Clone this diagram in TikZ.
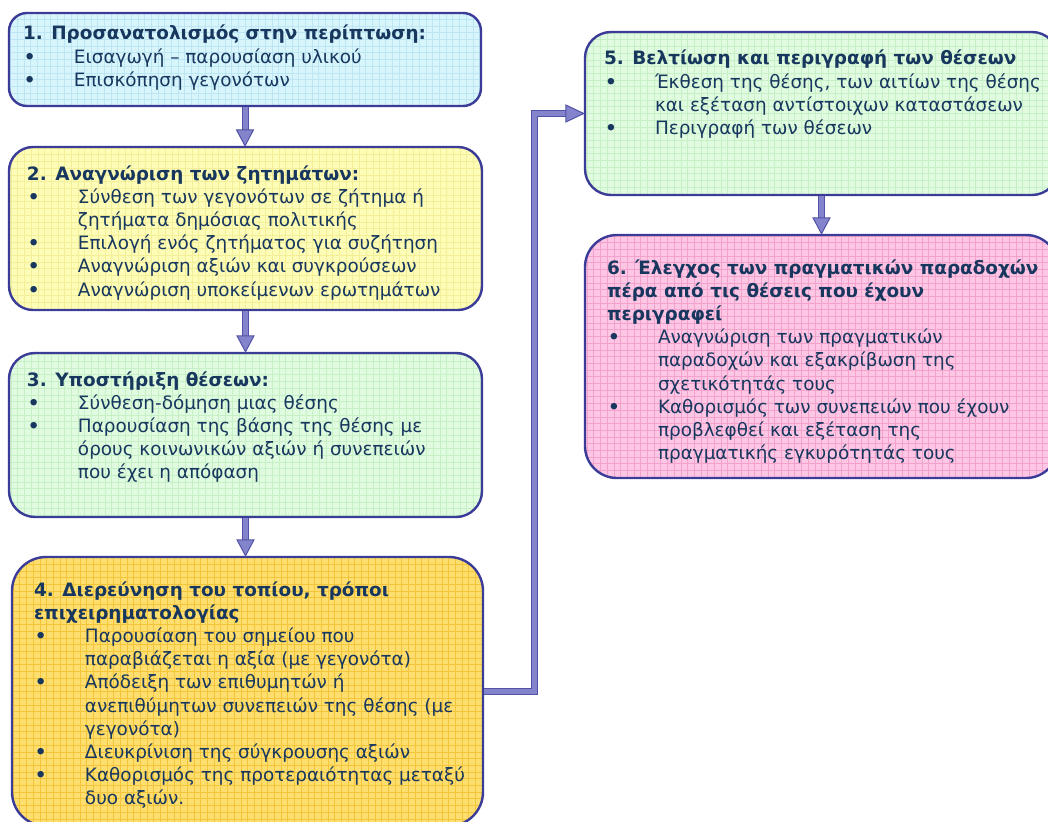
\documentclass[tikz,border=0pt]{standalone}
\usepackage{fontspec}
\setmainfont{DejaVu Sans}
\usetikzlibrary{calc}

% palette
\definecolor{ink}{HTML}{17375E}
\definecolor{edge}{HTML}{3B3B98}
\definecolor{arrowfill}{HTML}{8484CC}
\definecolor{arrowedge}{HTML}{5252A6}
\definecolor{cyanfill}{HTML}{D9F5FC}
\definecolor{cyangrid}{HTML}{BCE6F3}
\definecolor{yellowfill}{HTML}{FEFDB8}
\definecolor{yellowgrid}{HTML}{F3EE98}
\definecolor{greenfill}{HTML}{E0FBDF}
\definecolor{greengrid}{HTML}{C6F0C6}
\definecolor{goldfill}{HTML}{FDDE6E}
\definecolor{goldgrid}{HTML}{F4C53A}
\definecolor{pinkfill}{HTML}{FDC6E4}
\definecolor{pinkgrid}{HTML}{F3A2CC}

% bullet column and continuation indent
\newcommand{\itemdot}{\makebox[51pt][l]{\hspace{1pt}\textbf{•}}}
\newcommand{\itemgap}{\hspace*{51pt}}
\newcommand{\firstline}{\rule{0pt}{15pt}}

\tikzset{
  panel/.style n args={3}{draw=edge, line width=2.4pt, fill=#1,
    rounded corners=#3, inner sep=0pt,
    path picture={\draw[#2, line width=0.6pt, step=6.7pt]
      (path picture bounding box.south west) grid
      (path picture bounding box.north east);}},
  panelText/.style={anchor=north west, inner sep=0pt, align=left,
    text=ink, font=\fontsize{18.4}{23.2}\selectfont},
  shaft/.style={draw=arrowedge, line width=1pt, double=arrowfill,
    double distance=5pt, line join=miter},
  head/.style={fill=arrowfill, draw=arrowedge, line width=1pt,
    line join=miter}
}

\newcommand{\headdown}[1]{%
  \filldraw[head] ($#1+(-8.5,-16)$) -- #1 -- ($#1+(8.5,-16)$) -- cycle;}
\newcommand{\headright}[1]{%
  \filldraw[head] ($#1+(-18,-8.5)$) -- #1 -- ($#1+(-18,8.5)$) -- cycle;}

\begin{document}
\begin{tikzpicture}[x=1pt, y=-1pt]
\path[use as bounding box] (0,0) rectangle (1048,821);
\clip (0,0) rectangle (1048,821);
\fill[white] (0,0) rectangle (1048,821);

% boxes
\node[panel={cyanfill}{cyangrid}{18pt}, minimum width=472pt, minimum height=93pt] (b1) at (245,59.5) {};
\node[panel={yellowfill}{yellowgrid}{24pt}, minimum width=473pt, minimum height=163pt] (b2) at (245.5,228.5) {};
\node[panel={greenfill}{greengrid}{26pt}, minimum width=473pt, minimum height=164pt] (b3) at (245.5,435) {};
\node[panel={goldfill}{goldgrid}{34pt}, minimum width=471pt, minimum height=269pt] (b4) at (247.5,691.5) {};
\node[panel={greenfill}{greengrid}{26pt}, minimum width=473pt, minimum height=163pt] (b5) at (821.5,113.5) {};
\node[panel={pinkfill}{pinkgrid}{32pt}, minimum width=473pt, minimum height=243pt] (b6) at (821.5,356.5) {};

% texts
\node[panelText] (t1) at ($(b1.north west)+(15,13)$) {%
  \firstline\textbf{1. Προσανατολισμός στην περίπτωση:}\\
  \itemdot Εισαγωγή – παρουσίαση υλικού\\
  \itemdot Επισκόπηση γεγονότων};

\node[panelText] (t2) at ($(b2.north west)+(19,19)$) {%
  \firstline\textbf{2. Αναγνώριση των ζητημάτων:}\\
  \itemdot Σύνθεση των γεγονότων σε ζήτημα ή\\
  \itemgap ζητήματα δημόσιας πολιτικής\\
  \itemdot Επιλογή ενός ζητήματος για συζήτηση\\
  \itemdot Αναγνώριση αξιών και συγκρούσεων\\
  \itemdot Αναγνώριση υποκείμενων ερωτημάτων};

\node[panelText] (t3) at ($(b3.north west)+(19,19)$) {%
  \firstline\textbf{3. Υποστήριξη θέσεων:}\\
  \itemdot Σύνθεση-δόμηση μιας θέσης\\
  \itemdot Παρουσίαση της βάσης της θέσης με\\
  \itemgap όρους κοινωνικών αξιών ή συνεπειών\\
  \itemgap που έχει η απόφαση};

\node[panelText] (t4) at ($(b4.north west)+(23,25)$) {%
  \firstline\textbf{4. Διερεύνηση του τοπίου, τρόποι}\\
  \textbf{επιχειρηματολογίας}\\
  \itemdot Παρουσίαση του σημείου που\\
  \itemgap παραβιάζεται η αξία (με γεγονότα)\\
  \itemdot Απόδειξη των επιθυμητών ή\\
  \itemgap ανεπιθύμητων συνεπειών της θέσης (με\\
  \itemgap γεγονότα)\\
  \itemdot Διευκρίνιση της σύγκρουσης αξιών\\
  \itemdot Καθορισμός της προτεραιότητας μεταξύ\\
  \itemgap δυο αξιών.};

\node[panelText] (t5) at ($(b5.north west)+(20,19)$) {%
  \firstline\textbf{5. Βελτίωση και περιγραφή των θέσεων}\\
  \itemdot Έκθεση της θέσης, των αιτίων της θέσης\\
  \itemgap και εξέταση αντίστοιχων καταστάσεων\\
  \itemdot Περιγραφή των θέσεων};

\node[panelText] (t6) at ($(b6.north west)+(23,25)$) {%
  \firstline\textbf{6. Έλεγχος των πραγματικών παραδοχών}\\
  \textbf{πέρα από τις θέσεις που έχουν}\\
  \textbf{περιγραφεί}\\
  \itemdot Αναγνώριση των πραγματικών\\
  \itemgap παραδοχών και εξακρίβωση της\\
  \itemgap σχετικότητάς τους\\
  \itemdot Καθορισμός των συνεπειών που έχουν\\
  \itemgap προβλεφθεί και εξέταση της\\
  \itemgap πραγματικής εγκυρότητάς τους};

% block arrows down the left column
\draw[shaft] (b1.south) -- ($(b1.south |- b2.north)+(0,-16)$);
\headdown{(b1.south |- b2.north)}
\draw[shaft] (b2.south) -- ($(b2.south |- b3.north)+(0,-16)$);
\headdown{(b2.south |- b3.north)}
\draw[shaft] (b3.south) -- ($(b3.south |- b4.north)+(0,-16)$);
\headdown{(b3.south |- b4.north)}

% elbow from step 4 up to step 5
\coordinate (bend) at (534,0);
\draw[shaft] (b4.east) -| (bend |- b5.west) -- ($(b5.west)+(-18,0)$);
\headright{(b5.west)}

% step 5 to step 6
\draw[shaft] (b5.south) -- ($(b5.south |- b6.north)+(0,-16)$);
\headdown{(b5.south |- b6.north)}
\end{tikzpicture}
\end{document}
